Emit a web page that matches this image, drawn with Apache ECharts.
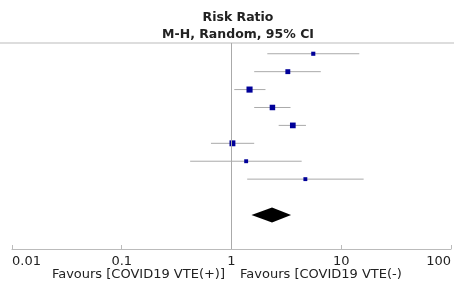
<!DOCTYPE html>
<html>
<head>
<meta charset="utf-8">
<script src="https://cdn.jsdelivr.net/npm/echarts@6/dist/echarts.min.js"></script>
<style>
  html, body { margin: 0; padding: 0; background: #fff; }
  #main { width: 454px; height: 284px; }
</style>
</head>
<body>
<div id="main"></div>
<script>
// study rows (top to bottom)
var est = [5.56, 3.26, 1.46, 2.36, 3.62, 1.02, 1.36, 4.71];
var lower = [2.12, 1.61, 1.06, 1.61, 2.69, 0.65, 0.42, 1.39];
var upper = [14.6, 6.51, 2.04, 3.45, 4.77, 1.61, 4.36, 16.0];
var weight = [8, 12, 18, 15, 16, 17, 7, 7];
// pooled estimate
var pooled = [2.34, 1.52, 3.49];
var pooledRow = 9;
var xTicks = [0.01, 0.1, 1, 10, 100];
var titleLines = ['Risk Ratio', 'M-H, Random, 95% CI'];
var favLeft = 'Favours [COVID19 VTE(+)]';
var favRight = 'Favours [COVID19 VTE(-)';

var font = 'DejaVu Sans';
var chart = echarts.init(document.getElementById('main'), null, { renderer: 'canvas' });

var studyData = est.map(function (v, i) {
  return [v, i, lower[i], upper[i], weight[i]];
});

var option = {
  animation: false,
  title: {
    text: titleLines.join('\n'),
    left: 233,
    textAlign: 'center',
    top: 4,
    textStyle: { fontFamily: font, fontSize: 12.5, fontWeight: 'bold', color: '#222', lineHeight: 17 }
  },
  grid: { left: 12, right: 0, top: 43, bottom: 35 },
  xAxis: {
    type: 'log',
    logBase: 10,
    position: 'bottom',
    min: xTicks[0],
    max: xTicks[xTicks.length - 1],
    axisLine: { onZero: false, lineStyle: { color: '#bbb', width: 1 } },
    axisTick: { inside: true, length: 4, lineStyle: { color: '#bbb' } },
    splitLine: { show: false },
    axisLabel: {
      fontFamily: font, fontSize: 13, color: '#222', margin: 6,
      alignMinLabel: 'left', alignMaxLabel: 'right',
      formatter: function (v) { return String(+v.toPrecision(3)); }
    }
  },
  yAxis: {
    type: 'value',
    inverse: true,
    min: -0.6,
    max: 10.9,
    show: false
  },
  graphic: [
    { type: 'line', shape: { x1: 0, y1: 43, x2: 454, y2: 43 }, style: { stroke: '#bbb', lineWidth: 1 } },
    { type: 'text', right: 454 - 225, top: 268, style: { text: favLeft, font: '13px "DejaVu Sans"', fill: '#222' } },
    { type: 'text', left: 240, top: 268, style: { text: favRight, font: '13px "DejaVu Sans"', fill: '#222' } }
  ],
  series: [
    {
      type: 'custom',
      data: studyData,
      encode: { x: [0, 2, 3], y: 1 },
      renderItem: function (params, api) {
        var c = api.coord([api.value(0), api.value(1)]);
        var lo = api.coord([api.value(2), api.value(1)]);
        var hi = api.coord([api.value(3), api.value(1)]);
        var s = 2.5 + api.value(4) * 0.2;
        return {
          type: 'group',
          children: [
            { type: 'line', shape: { x1: lo[0], y1: c[1], x2: hi[0], y2: c[1] }, style: { stroke: '#aaa', lineWidth: 1 } },
            { type: 'rect', shape: { x: c[0] - s / 2, y: c[1] - s / 2, width: s, height: s }, style: { fill: '#000099' } }
          ]
        };
      },
      markLine: {
        silent: true,
        symbol: 'none',
        label: { show: false },
        lineStyle: { color: '#aaa', width: 1, type: 'solid' },
        data: [{ xAxis: 1 }]
      },
      z: 3
    },
    {
      type: 'custom',
      data: [[pooled[0], pooledRow, pooled[1], pooled[2]]],
      encode: { x: [0, 2, 3], y: 1 },
      renderItem: function (params, api) {
        var c = api.coord([api.value(0), api.value(1)]);
        var lo = api.coord([api.value(2), api.value(1)]);
        var hi = api.coord([api.value(3), api.value(1)]);
        var h = 7.5;
        return {
          type: 'polygon',
          shape: { points: [[lo[0], c[1]], [c[0], c[1] - h], [hi[0], c[1]], [c[0], c[1] + h]] },
          style: { fill: '#000' }
        };
      },
      z: 4
    }
  ]
};

chart.setOption(option);
</script>
</body>
</html>
